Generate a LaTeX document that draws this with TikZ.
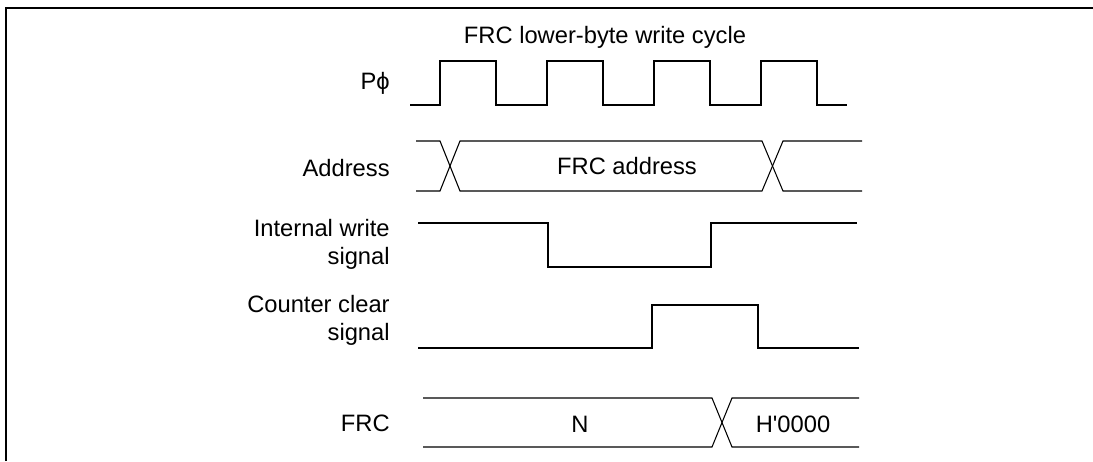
\documentclass[tikz,border=0pt]{standalone}
\usepackage{fontspec}
\setmainfont{Liberation Sans}
\newfontfamily\plainfont{Liberation Sans}
\usetikzlibrary{positioning}

\begin{document}
\begin{tikzpicture}[x=0.02cm, y=-0.02cm,
    sig/.style={line width=0.6pt, line join=miter},
    lbl/.style={anchor=east, align=right, inner sep=0pt,
                font=\fontsize{13.5}{16}\selectfont},
    txt/.style={inner sep=0pt, font=\fontsize{13.5}{16}\selectfont}]
  \useasboundingbox (0,0) rectangle (1093,461);
  % frame
  \draw[line width=1.1pt] (6,461) -- (6,8) -- (1093,8);
  % title
  \node[txt] (title) at (605,37) {FRC lower-byte write cycle};
  % signal names
  \node[lbl] (lphi) at (390,83) {P{\plainfont ϕ}};
  \node[lbl] (laddr) at (390,168) {Address};
  \node[lbl] (lwr) at (390,244) {Internal write\\signal};
  \node[lbl] (lclr) at (390,320) {Counter clear\\signal};
  \node[lbl] (lfrc) at (390,423) {FRC};
  % clock
  \draw[sig] (410,105) -- (440,105) -- (440,61) -- (496,61) -- (496,105)
    -- (547,105) -- (547,61) -- (603,61) -- (603,105)
    -- (654,105) -- (654,61) -- (710,61) -- (710,105)
    -- (761,105) -- (761,61) -- (817,61) -- (817,105) -- (847,105);
  % address bus
  \draw[sig] (416,141) -- (440,141) -- (460,191) -- (762,191) -- (783,141) -- (862,141);
  \draw[sig] (416,191) -- (440,191) -- (460,141) -- (762,141) -- (783,191) -- (862,191);
  \node[txt] (addr) at (627,166) {FRC address};
  % internal write
  \draw[sig] (418,223) -- (548,223) -- (548,267) -- (711,267) -- (711,223) -- (857,223);
  % counter clear
  \draw[sig] (418,348) -- (652,348) -- (652,305) -- (758,305) -- (758,348) -- (859,348);
  % FRC value
  \draw[sig] (423,398) -- (712,398) -- (732,447) -- (859,447);
  \draw[sig] (423,447) -- (712,447) -- (732,398) -- (859,398);
  \node[txt] (valn) at (580,424) {N};
  \node[txt] (valz) at (793,424) {\plainfont H'0000};
\end{tikzpicture}
\end{document}
